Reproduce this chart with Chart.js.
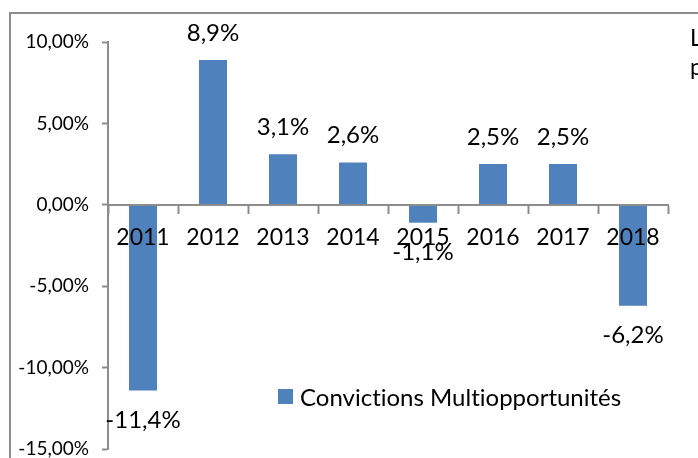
<!DOCTYPE html>
<html>
<head>
<meta charset="utf-8">
<script src="https://cdn.jsdelivr.net/npm/chart.js@4/dist/chart.umd.min.js"></script>
<style>
    html, body { margin: 0; padding: 0; background: #fff; overflow: hidden; }
    body { width: 698px; height: 458px; position: relative; font-family: Lato, sans-serif; }
    #frame { position: absolute; left: 9px; top: 12px; width: 720px; height: 480px; border: 2px solid #8c8c8c; box-sizing: border-box; }
    #wrap { position: absolute; left: 0; top: 0; width: 698px; height: 480px; }
    #legend { position: absolute; left: 278px; top: 382px; font-size: 24px; color: #000; white-space: nowrap; display: flex; align-items: center; font-variant-ligatures: none; }
    #legend .box { width: 15px; height: 15px; margin-right: 7px; }
    #side { position: absolute; left: 690px; top: 23px; font-size: 23px; line-height: 29px; color: #000; }
</style>
</head>
<body>
<div id="frame"></div>
<div id="wrap"><canvas id="chart"></canvas></div>
<div id="legend"></div>
<div id="side">L<br>p</div>
<script>
const years = ['2011', '2012', '2013', '2014', '2015', '2016', '2017', '2018'];
const perf = [-11.4, 8.9, 3.1, 2.6, -1.1, 2.5, 2.5, -6.2];
const seriesName = 'Convictions Multiopportunités';
const barColor = '#4F81BD';
const axisColor = '#8c8c8c';

function frNum(v, digits) {
    return v.toFixed(digits).replace('.', ',');
}

// value labels above / below each bar
const valueLabels = {
    id: 'valueLabels',
    afterDraw(chart) {
        const ctx = chart.ctx;
        const meta = chart.getDatasetMeta(0);
        ctx.save();
        ctx.font = '24px Lato';
        ctx.fillStyle = '#000';
        ctx.textAlign = 'center';
        ctx.textBaseline = 'middle';
        meta.data.forEach((bar, i) => {
            const v = perf[i];
            const y = v >= 0 ? bar.y - 27 : bar.y + 30;
            ctx.fillText(frNum(v, 1) + '%', bar.x, y);
        });
        ctx.restore();
    }
};

const ctx = document.getElementById('chart').getContext('2d');
new Chart(ctx, {
    type: 'bar',
    data: {
        labels: years,
        datasets: [{
            label: seriesName,
            data: perf,
            backgroundColor: barColor,
            borderWidth: 0,
            barPercentage: 0.4,
            categoryPercentage: 1.0
        }]
    },
    options: {
        responsive: true,
        maintainAspectRatio: false,
        animation: false,
        layout: { padding: { left: 0, top: 42, right: 30, bottom: 31 } },
        plugins: {
            legend: { display: false },
            tooltip: { enabled: false }
        },
        scales: {
            x: {
                position: { y: 0 },
                offset: true,
                grid: {
                    offset: true,
                    drawOnChartArea: false,
                    drawTicks: true,
                    tickLength: 8,
                    tickColor: axisColor,
                    tickWidth: 2,
                    z: 1
                },
                border: { display: true, color: axisColor, width: 2, z: 1 },
                ticks: {
                    z: 1,
                    color: '#000',
                    font: { family: 'Lato', size: 23 },
                    padding: 11,
                    maxRotation: 0,
                    autoSkip: false
                }
            },
            y: {
                min: -15,
                max: 10,
                afterFit(scale) { scale.width = 108; },
                grid: {
                    drawOnChartArea: false,
                    drawTicks: true,
                    tickLength: 6,
                    tickColor: axisColor,
                    tickWidth: 2
                },
                border: { display: true, color: axisColor, width: 2 },
                ticks: {
                    stepSize: 5,
                    color: '#000',
                    font: { family: 'Lato', size: 19 },
                    padding: 13,
                    callback: v => frNum(v, 2) + '%'
                }
            }
        }
    },
    plugins: [valueLabels]
});

const legend = document.getElementById('legend');
legend.innerHTML = '<span class="box" style="background:' + barColor + '"></span><span>' + seriesName + '</span>';
</script>
</body>
</html>
